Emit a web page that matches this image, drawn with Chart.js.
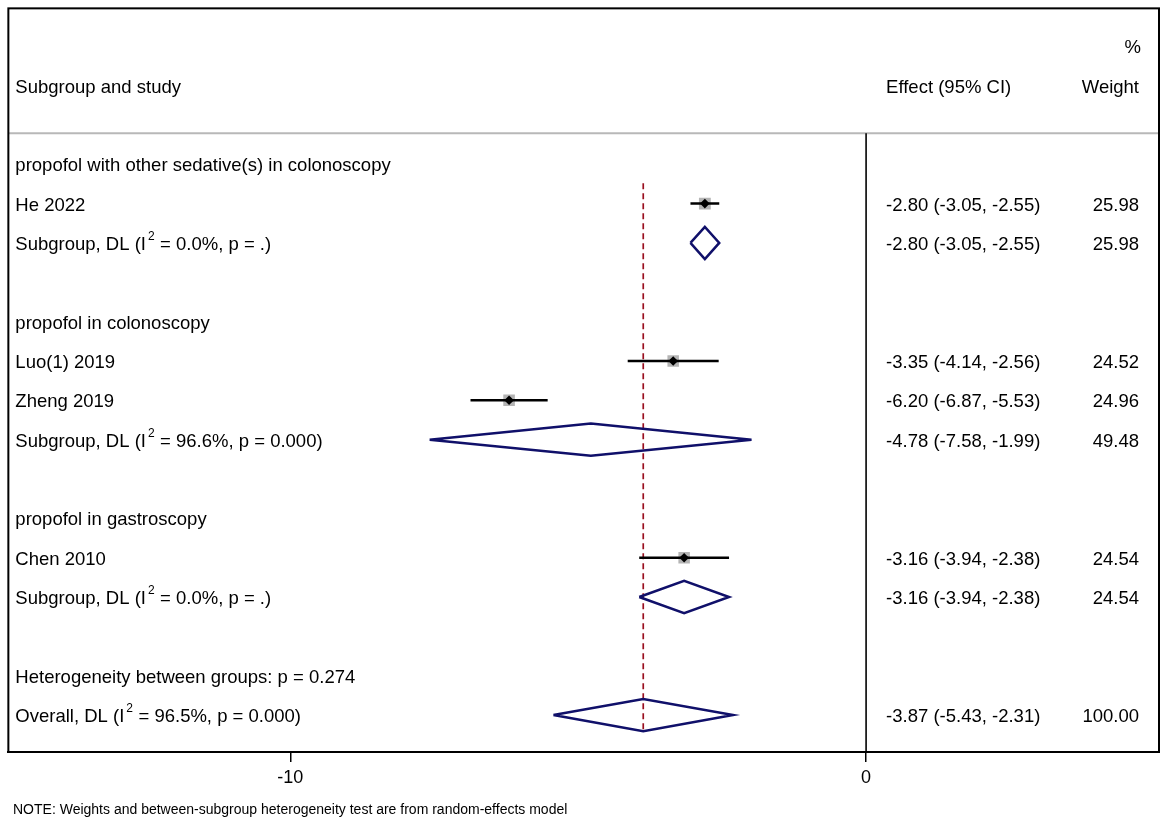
<!DOCTYPE html>
<html>
<head>
<meta charset="utf-8">
<script src="https://cdn.jsdelivr.net/npm/chart.js@4/dist/chart.umd.min.js"></script>
<style>
  body { margin: 0; background: #fff; }
  #wrap { width: 1169px; height: 827px; }
</style>
</head>
<body>
<div id="wrap"><canvas id="forestChart"></canvas></div>
<script>
// Studies
const studyNames = ['He 2022', 'Luo(1) 2019', 'Zheng 2019', 'Chen 2010'];
const studyRows = [1, 5, 6, 10];
const studyEst = [-2.80, -3.35, -6.20, -3.16];
const studyLo = [-3.05, -4.14, -6.87, -3.94];
const studyHi = [-2.55, -2.56, -5.53, -2.38];
const studyWeight = [25.98, 24.52, 24.96, 24.54];

// Subgroups
const groupTitles = ['propofol with other sedative(s) in colonoscopy', 'propofol in colonoscopy', 'propofol in gastroscopy'];
const groupTitleRows = [0, 4, 9];
const subRows = [2, 7, 11];
const subI2 = ['0.0%', '96.6%', '0.0%'];
const subP = ['.', '0.000', '.'];
const subEst = [-2.80, -4.78, -3.16];
const subLo = [-3.05, -7.58, -3.94];
const subHi = [-2.55, -1.99, -2.38];
const subWeight = [25.98, 49.48, 24.54];

// Overall
const heteroText = 'Heterogeneity between groups: p = 0.274';
const heteroRow = 13;
const overallRow = 14;
const overallI2 = '96.5%';
const overallP = '0.000';
const overallEst = -3.87;
const overallLo = -5.43;
const overallHi = -2.31;
const overallWeight = 100.00;

const xTicks = [-10, 0];
const noteText = 'NOTE: Weights and between-subgroup heterogeneity test are from random-effects model';

// axis range (chart area = the boxed region)
const xMin = -14.896, xMax = 5.087;
const yMin = -3.963, yMax = 14.939;
const headerLineRow = -0.79;
const diamondHalf = 0.41;

const navy = '#10106a';
const fontName = '"Liberation Sans", Arial, sans-serif';

function diamond(est, lo, hi, row) {
    return [
        { x: lo, y: row }, { x: est, y: row - diamondHalf },
        { x: hi, y: row }, { x: est, y: row + diamondHalf },
        { x: lo, y: row }
    ];
}

const datasets = [];

// header separator (gray)
datasets.push({
    type: 'line', data: [{ x: xMin, y: headerLineRow }, { x: xMax, y: headerLineRow }],
    borderColor: '#b8b8b8', borderWidth: 2, pointRadius: 0
});
// no-effect line
datasets.push({
    type: 'line', data: [{ x: 0, y: headerLineRow }, { x: 0, y: yMax }],
    borderColor: '#000', borderWidth: 1.6, pointRadius: 0
});
// overall effect dashed line
datasets.push({
    type: 'line', data: [{ x: overallEst, y: 0.48 }, { x: overallEst, y: overallRow + diamondHalf }],
    borderColor: '#9a1020', borderWidth: 1.7, borderDash: [6, 4], pointRadius: 0
});

// gray weight boxes
datasets.push({
    type: 'scatter',
    data: studyEst.map((v, i) => ({ x: v, y: studyRows[i] })),
    pointStyle: 'rect',
    pointRadius: studyWeight.map(w => 8.2 * Math.sqrt(w / 25)),
    backgroundColor: '#b4b4b4', borderWidth: 0
});

// CI lines
studyEst.forEach((v, i) => {
    datasets.push({
        type: 'line', data: [{ x: studyLo[i], y: studyRows[i] }, { x: studyHi[i], y: studyRows[i] }],
        borderColor: '#000', borderWidth: 2.5, pointRadius: 0
    });
});

// point estimates
datasets.push({
    type: 'scatter',
    data: studyEst.map((v, i) => ({ x: v, y: studyRows[i] })),
    pointStyle: 'rectRot', pointRadius: 4.8,
    backgroundColor: '#000', borderWidth: 0
});

// subgroup diamonds
subEst.forEach((v, i) => {
    datasets.push({
        type: 'line', data: diamond(v, subLo[i], subHi[i], subRows[i]),
        borderColor: navy, borderWidth: 2.5, pointRadius: 0, fill: false
    });
});
// overall diamond
datasets.push({
    type: 'line', data: diamond(overallEst, overallLo, overallHi, overallRow),
    borderColor: navy, borderWidth: 2.5, pointRadius: 0, fill: false
});

// later datasets go on top
datasets.forEach((d, i) => { d.order = -i; });

function fmtCI(e, l, h) {
    return e.toFixed(2) + ' (' + l.toFixed(2) + ', ' + h.toFixed(2) + ')';
}

// text with superscript 2 after the I
function drawI2Label(ctx, x, y, prefix, i2, p) {
    ctx.textAlign = 'left';
    const first = prefix + ' (I';
    ctx.fillText(first, x, y);
    let w = ctx.measureText(first).width;
    ctx.save();
    ctx.font = '12px ' + fontName;
    ctx.fillText('2', x + w + 2, y - 8);
    ctx.restore();
    w += 9;
    ctx.fillText(' = ' + i2 + ', p = ' + p + ')', x + w, y);
}

const textPlugin = {
    id: 'forestText',
    afterDraw(chart) {
        const ctx = chart.ctx;
        const area = chart.chartArea;
        const xs = chart.scales.x;
        const ys = chart.scales.y;
        const leftX = area.left + 7;
        const effX = xs.getPixelForValue(0) + 20;
        const wX = area.right - 20;
        const row = r => ys.getPixelForValue(r) + 2;

        ctx.save();
        // box
        ctx.strokeStyle = '#000';
        ctx.lineWidth = 2;
        ctx.strokeRect(area.left, area.top, area.right - area.left, area.bottom - area.top);

        ctx.fillStyle = '#000';
        ctx.textBaseline = 'middle';
        ctx.font = '18.5px ' + fontName;

        // headers
        ctx.textAlign = 'left';
        ctx.fillText('Subgroup and study', leftX, row(-2));
        ctx.fillText('Effect (95% CI)', effX, row(-2));
        ctx.textAlign = 'right';
        ctx.fillText('%', wX + 2, row(-3));
        ctx.fillText('Weight', wX, row(-2));

        // group titles
        ctx.textAlign = 'left';
        groupTitles.forEach((t, i) => ctx.fillText(t, leftX, row(groupTitleRows[i])));

        // studies
        studyNames.forEach((n, i) => {
            const y = row(studyRows[i]);
            ctx.textAlign = 'left';
            ctx.fillText(n, leftX, y);
            ctx.fillText(fmtCI(studyEst[i], studyLo[i], studyHi[i]), effX, y);
            ctx.textAlign = 'right';
            ctx.fillText(studyWeight[i].toFixed(2), wX, y);
        });

        // subgroups
        subRows.forEach((r, i) => {
            const y = row(r);
            drawI2Label(ctx, leftX, y, 'Subgroup, DL', subI2[i], subP[i]);
            ctx.textAlign = 'left';
            ctx.fillText(fmtCI(subEst[i], subLo[i], subHi[i]), effX, y);
            ctx.textAlign = 'right';
            ctx.fillText(subWeight[i].toFixed(2), wX, y);
        });

        // heterogeneity + overall
        ctx.textAlign = 'left';
        ctx.fillText(heteroText, leftX, row(heteroRow));
        const oy = row(overallRow);
        drawI2Label(ctx, leftX, oy, 'Overall, DL', overallI2, overallP);
        ctx.textAlign = 'left';
        ctx.fillText(fmtCI(overallEst, overallLo, overallHi), effX, oy);
        ctx.textAlign = 'right';
        ctx.fillText(overallWeight.toFixed(2), wX, oy);

        // note
        ctx.textAlign = 'left';
        ctx.font = '14px ' + fontName;
        ctx.fillText(noteText, 13, 810);
        ctx.restore();
    }
};

new Chart(document.getElementById('forestChart'), {
    type: 'scatter',
    data: { datasets: datasets },
    options: {
        responsive: true,
        maintainAspectRatio: false,
        animation: false,
        layout: { padding: { left: 8, right: 10, top: 8, bottom: 0 } },
        plugins: {
            legend: { display: false },
            tooltip: { enabled: false }
        },
        scales: {
            x: {
                type: 'linear',
                min: xMin,
                max: xMax,
                afterBuildTicks: scale => { scale.ticks = xTicks.map(v => ({ value: v })); },
                afterFit: scale => { scale.height = 75; },
                ticks: { color: '#000', font: { size: 18, family: fontName }, padding: 5 },
                grid: { drawOnChartArea: false, drawTicks: true, tickLength: 10, color: '#000', lineWidth: 1.5 },
                border: { display: true, color: '#000', width: 2 }
            },
            y: {
                type: 'linear',
                display: false,
                reverse: true,
                min: yMin,
                max: yMax
            }
        }
    },
    plugins: [textPlugin]
});
</script>
</body>
</html>
